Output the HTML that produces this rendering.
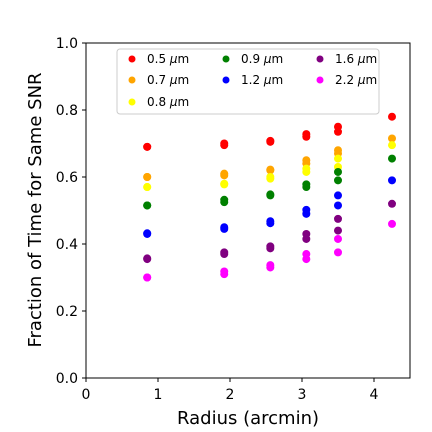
<!DOCTYPE html>
<html><head><meta charset="utf-8"><style>
html,body{margin:0;padding:0;background:#fff;}
svg{display:block;font-family:"DejaVu Sans","Liberation Sans",sans-serif;}
</style></head><body>
<svg id="chart" width="432" height="432" viewBox="0 0 432 432">
<rect x="0" y="0" width="432" height="432" fill="#fff"/>
<g id="marks"></g>
<rect x="86" y="43" width="324" height="335" fill="none" stroke="#000" stroke-width="1"/>
<g id="axes"></g>
<text x="248" y="424" font-size="18" text-anchor="middle">Radius (arcmin)</text>
<text transform="translate(41,210) rotate(-90)" font-size="18" text-anchor="middle">Fraction of Time for Same SNR</text>
<g>
<rect x="117" y="49" width="262" height="65" rx="3" fill="#fff" stroke="#ccc"/>
<g id="legend"></g>
</g>
</svg>
<script>
const radii = [0.85, 0.85, 1.92, 1.92, 2.56, 2.56, 3.06, 3.06, 3.5, 3.5, 4.25];
const seriesNames = ["0.5", "0.7", "0.8", "0.9", "1.2", "1.6", "2.2"];
const seriesColors = ["#ff0000", "#ffa500", "#ffff00", "#008000", "#0000ff", "#800080", "#ff00ff"];
const s05 = [0.69, 0.69, 0.695, 0.70, 0.705, 0.708, 0.72, 0.728, 0.735, 0.75, 0.78];
const s07 = [0.60, 0.60, 0.605, 0.61, 0.62, 0.622, 0.64, 0.65, 0.67, 0.68, 0.715];
const s08 = [0.57, 0.57, 0.578, 0.58, 0.595, 0.60, 0.615, 0.625, 0.63, 0.655, 0.695];
const s09 = [0.515, 0.515, 0.525, 0.532, 0.545, 0.548, 0.57, 0.578, 0.59, 0.615, 0.655];
const s12 = [0.43, 0.432, 0.445, 0.45, 0.462, 0.468, 0.49, 0.502, 0.515, 0.545, 0.59];
const s16 = [0.355, 0.357, 0.37, 0.375, 0.387, 0.393, 0.415, 0.43, 0.44, 0.475, 0.52];
const s22 = [0.30, 0.30, 0.31, 0.318, 0.33, 0.337, 0.355, 0.37, 0.375, 0.415, 0.46];
const allSeries = [s05, s07, s08, s09, s12, s16, s22];
const xTicks = [0, 1, 2, 3, 4];
const yTicks = [0.0, 0.2, 0.4, 0.6, 0.8, 1.0];

const NS = "http://www.w3.org/2000/svg";
const X0 = 86, X1 = 410, Y0 = 378, Y1 = 43, XMAX = 4.5;
function xs(v){ return X0 + v / XMAX * (X1 - X0); }
function ys(v){ return Y0 - v * (Y0 - Y1); }
function mk(tag, attrs, parent){ const e = document.createElementNS(NS, tag); for (const k in attrs) e.setAttribute(k, attrs[k]); parent.appendChild(e); return e; }

const marks = document.getElementById('marks');
allSeries.forEach((ser, si) => {
  ser.forEach((v, i) => {
    const c = mk('circle', {cx: xs(radii[i]), cy: ys(v), r: 4, fill: seriesColors[si]}, marks);
    
    
  });
});

const axes = document.getElementById('axes');
xTicks.forEach(t => {
  const l = mk('line', {x1: xs(t), x2: xs(t), y1: Y0, y2: Y0 + 4, stroke: '#000'}, axes);
  
  
  const tx = mk('text', {x: xs(t), y: Y0 + 21, 'font-size': 14, 'text-anchor': 'middle'}, axes);
  tx.textContent = t;
  
  
});
yTicks.forEach(t => {
  const l = mk('line', {x1: X0 - 4, x2: X0, y1: ys(t), y2: ys(t), stroke: '#000'}, axes);
  
  
  const tx = mk('text', {x: X0 - 8, y: ys(t) + 5, 'font-size': 14, 'text-anchor': 'end'}, axes);
  tx.textContent = t.toFixed(1);
  
  
});

const leg = document.getElementById('legend');
const colX = [132, 226, 320], rowY = [59, 80, 102];
const legCol = [0, 0, 0, 1, 1, 2, 2], legRow = [0, 1, 2, 0, 1, 0, 1];
seriesNames.forEach((n, i) => {
  const col = legCol[i], row = legRow[i];
  const g = mk('g', {}, leg);
  
  
  mk('circle', {cx: colX[col], cy: rowY[row], r: 3.5, fill: seriesColors[i]}, g);
  const t = mk('text', {x: colX[col] + 15, y: rowY[row] + 4, 'font-size': 12}, g);
  t.innerHTML = n + ' <tspan font-style="italic">μ</tspan>m';
});
</script>
</body></html>
